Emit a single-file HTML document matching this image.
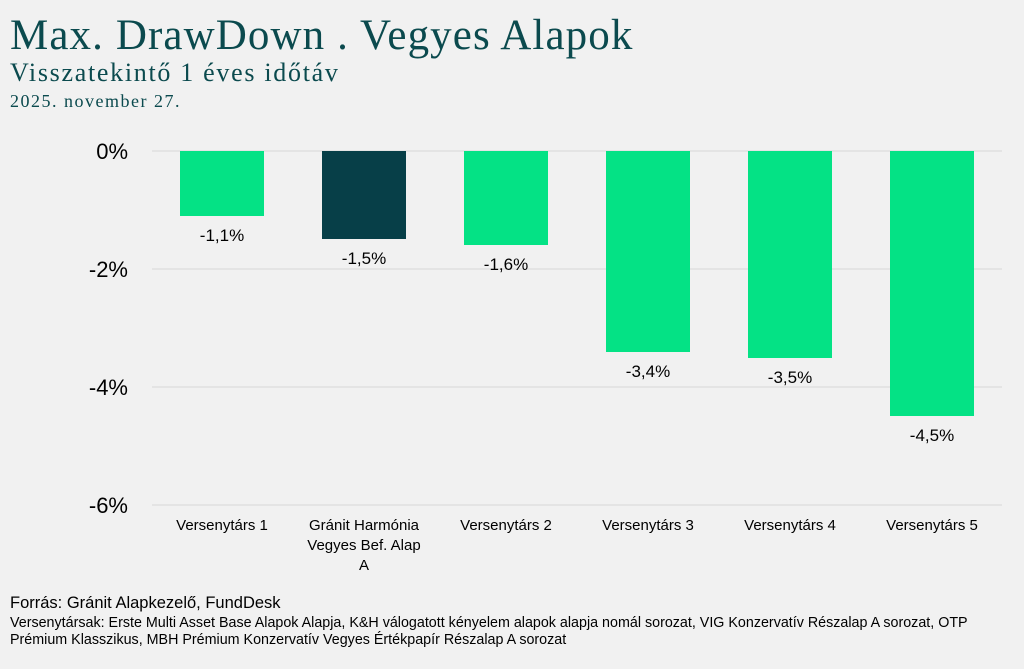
<!DOCTYPE html>
<html><head><meta charset="utf-8"><style>
body{margin:0;width:1024px;height:669px;background:#f1f1f1;overflow:hidden;position:relative;font-family:"Liberation Sans",sans-serif}
.t{position:absolute;font-family:"Liberation Serif",serif;color:#0b4a4e;white-space:nowrap}
.a{position:absolute;white-space:nowrap;color:#000}
</style></head><body>
<div class="t" style="left:10px;top:11px;font-size:43px;letter-spacing:1.1px">Max. DrawDown . Vegyes Alapok</div>
<div class="t" style="left:10px;top:58px;font-size:26px;letter-spacing:1.7px">Visszatekintő 1 éves időtáv</div>
<div class="t" style="left:10px;top:91px;font-size:18px;letter-spacing:1.5px">2025. november 27.</div>
<svg style="position:absolute;left:0;top:0" width="1024" height="669">
<g stroke="#d8d8d8" stroke-width="1">
<line x1="152" x2="1002" y1="151" y2="151"/><line x1="152" x2="1002" y1="269" y2="269"/>
<line x1="152" x2="1002" y1="387" y2="387"/><line x1="152" x2="1002" y1="505" y2="505"/>
</g>
<g fill="#04e285">
<rect x="180" y="151" width="84" height="65"/>
<rect x="464" y="151" width="84" height="94"/>
<rect x="606" y="151" width="84" height="201"/>
<rect x="748" y="151" width="84" height="207"/>
<rect x="890" y="151" width="84" height="265"/>
</g>
<rect x="322" y="151" width="84" height="88" fill="#073f48"/>
<g font-family="Liberation Sans" font-size="22" text-anchor="end" fill="#000">
<text x="128" y="159">0%</text><text x="128" y="277">-2%</text><text x="128" y="395">-4%</text><text x="128" y="513">-6%</text>
</g>
<g font-family="Liberation Sans" font-size="17" text-anchor="middle" fill="#000">
<text x="222" y="241">-1,1%</text><text x="364" y="264">-1,5%</text><text x="506" y="270">-1,6%</text>
<text x="648" y="377">-3,4%</text><text x="790" y="383">-3,5%</text><text x="932" y="441">-4,5%</text>
</g>
<g font-family="Liberation Sans" font-size="15" text-anchor="middle" fill="#000">
<text x="222" y="530">Versenytárs 1</text>
<text x="364" y="530">Gránit Harmónia</text><text x="364" y="550">Vegyes Bef. Alap</text><text x="364" y="570">A</text>
<text x="506" y="530">Versenytárs 2</text><text x="648" y="530">Versenytárs 3</text>
<text x="790" y="530">Versenytárs 4</text><text x="932" y="530">Versenytárs 5</text>
</g>
</svg>
<div class="a" style="left:10px;top:594px;font-size:16.5px">Forrás: Gránit Alapkezelő, FundDesk</div>
<div class="a" style="left:10px;top:615px;font-size:14.3px;line-height:17px">Versenytársak: Erste Multi Asset Base Alapok Alapja, K&amp;H válogatott kényelem alapok alapja nomál sorozat, VIG Konzervatív Részalap A sorozat, OTP<br>Prémium Klasszikus, MBH Prémium Konzervatív Vegyes Értékpapír Részalap A sorozat</div>
</body></html>
